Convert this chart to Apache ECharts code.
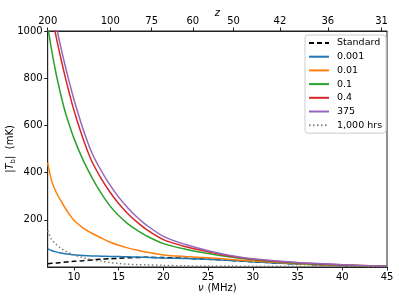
<!DOCTYPE html>
<html>
<head>
<meta charset="utf-8">
<script src="https://cdn.jsdelivr.net/npm/echarts@6/dist/echarts.min.js"></script>
<style>html,body{margin:0;padding:0;background:#fff}#c{width:399px;height:301px}</style>
</head>
<body>
<div id="c"></div>
<script>
var nu = [7.0667, 7.5, 8, 8.5, 9, 9.5, 10, 11, 12, 13, 14, 15, 16, 17, 18, 20, 22.5, 25, 27.5, 30, 35, 40, 45];
var standard = [14, 16, 17, 19, 21, 22, 24, 27, 30, 33, 35, 37, 39, 40, 41, 40, 37, 33, 28, 22, 13, 6, 2];
var s0001 = [77, 70, 64, 59, 56, 54, 52, 49, 47, 46, 45, 44, 43, 42, 41, 38, 36, 33, 28, 22, 13, 6, 2];
var s001 = [442, 366, 318, 283, 251, 222, 198, 166, 143, 124, 106, 92, 81, 72, 64, 51, 44, 39, 32, 25, 14, 7, 3];
var s01 = [1020, 920, 820, 735, 660, 600, 545, 455, 380, 315, 260, 218, 184, 157, 134, 99, 75, 57, 42, 31, 16, 8, 3];
var s04 = [1158, 1072, 977, 890, 809, 734, 664, 546, 448, 378, 319, 269, 227, 192, 162, 116, 86, 65, 46, 33, 18, 9, 3];
var s375 = [1213, 1123, 1025, 937, 856, 781, 710, 587, 484, 411, 349, 296, 251, 213, 181, 130, 95, 69, 49, 35, 19, 10, 3];
var hrs1000 = [154, 117, 97, 81, 69, 60, 51, 40, 31, 25, 19, 15, 12, 10, 9, 7, 5, 4, 4, 3, 3, 3, 2];
var xTicks = [10, 15, 20, 25, 30, 35, 40, 45];
var zTicks = [200, 100, 75, 60, 50, 42, 36, 31];
var yTicks = [200, 400, 600, 800, 1000];
var NU21 = 1420.4057;

function pairs(arr) { return nu.map(function (v, i) { return [v, arr[i]]; }); }
var zPos = zTicks.map(function (z) { return NU21 / (1 + z); });

var font = 'DejaVu Sans';
function mk(name, data, color, type, w) {
  return {
    name: name, type: 'line', data: pairs(data), smooth: 0.3,
    showSymbol: false, symbol: 'none', clip: true, xAxisIndex: 0,
    lineStyle: { color: color, width: w || 1.5, type: type || 'solid' },
    itemStyle: { color: color }
  };
}

var chart = echarts.init(document.getElementById('c'), null, { renderer: 'canvas' });
chart.setOption({
  animation: false,
  textStyle: { fontFamily: font },
  grid: { left: 47.7, right: 12, top: 31, bottom: 34, containLabel: false, outerBoundsMode: 'none',
    show: true, borderColor: '#222', borderWidth: 1, backgroundColor: 'transparent' },
  legend: {
    orient: 'vertical', left: 305, top: 35,
    padding: [3, 4, 3, 3],
    itemWidth: 20, itemHeight: 10, itemGap: 3.7,
    itemStyle: { opacity: 0, borderWidth: 0 },
    backgroundColor: '#fff', borderColor: '#ccc', borderWidth: 1, borderRadius: 3,
    textStyle: { fontFamily: font, fontSize: 9.5, color: '#000', padding: [0, 0, 0, 3] },
    data: ['Standard', '0.001', '0.01', '0.1', '0.4', '375', '1,000 hrs']
  },
  xAxis: [{
    type: 'value', position: 'bottom', min: NU21 / 201, max: 45,
    name: '{i|ν} {r|(MHz)}', nameLocation: 'middle', nameGap: 15, nameMoveOverlap: false,
    nameTextStyle: { rich: { i: { fontStyle: 'italic', fontSize: 10, fontFamily: font, color: '#000' }, r: { fontSize: 10, fontFamily: font, color: '#000' } } },
    axisLine: { show: true, lineStyle: { color: '#222', width: 1 } },
    axisTick: { show: true, length: 3.5, lineStyle: { color: '#222' }, customValues: xTicks },
    axisLabel: { color: '#000', fontSize: 10, fontFamily: font, margin: 5, customValues: xTicks,
      formatter: function (v) { return String(v); } },
    splitLine: { show: false }
  }, {
    type: 'value', position: 'top', min: NU21 / 201, max: 45,
    name: 'z', nameLocation: 'middle', nameGap: 13, nameMoveOverlap: false,
    nameTextStyle: { fontStyle: 'italic', fontSize: 10, fontFamily: font, color: '#000' },
    axisLine: { show: true, onZero: false, lineStyle: { color: '#222', width: 1 } },
    axisTick: { show: true, length: 3.5, lineStyle: { color: '#222' }, customValues: zPos },
    axisLabel: { color: '#000', fontSize: 10, fontFamily: font, margin: 5, customValues: zPos,
      formatter: function (v) { return String(Math.round(NU21 / v - 1)); } },
    splitLine: { show: false }
  }],
  yAxis: [{
    type: 'value', min: 0, max: 1000,
    name: '{a||}{i|T}{s|b}{a||}{a|  (mK)}', nameLocation: 'middle', nameGap: 31, nameRotate: 90, nameMoveOverlap: false,
    nameTextStyle: { rich: {
      a: { fontSize: 10, fontFamily: font, color: '#000', verticalAlign: 'middle' },
      i: { fontSize: 10, fontFamily: font, fontStyle: 'italic', color: '#000', verticalAlign: 'middle' },
      s: { fontSize: 7, fontFamily: font, color: '#000', verticalAlign: 'bottom', padding: [6, 0, 0, 0] }
    } },
    axisLine: { show: true, lineStyle: { color: '#222', width: 1 } },
    axisTick: { show: true, length: 3.5, lineStyle: { color: '#222' }, customValues: yTicks },
    axisLabel: { color: '#000', fontSize: 10, fontFamily: font, margin: 5, customValues: yTicks,
      formatter: function (v) { return String(v); } },
    splitLine: { show: false }
  }],
  series: [
    mk('Standard', standard, '#000000', [5, 3], 1.5),
    mk('0.001', s0001, '#1f77b4'),
    mk('0.01', s001, '#ff7f0e'),
    mk('0.1', s01, '#2ca02c'),
    mk('0.4', s04, '#d62728'),
    mk('375', s375, '#9467bd'),
    mk('1,000 hrs', hrs1000, '#7f7f7f', [1.5, 2.5], 1.5)
  ]
});
</script>
</body>
</html>
